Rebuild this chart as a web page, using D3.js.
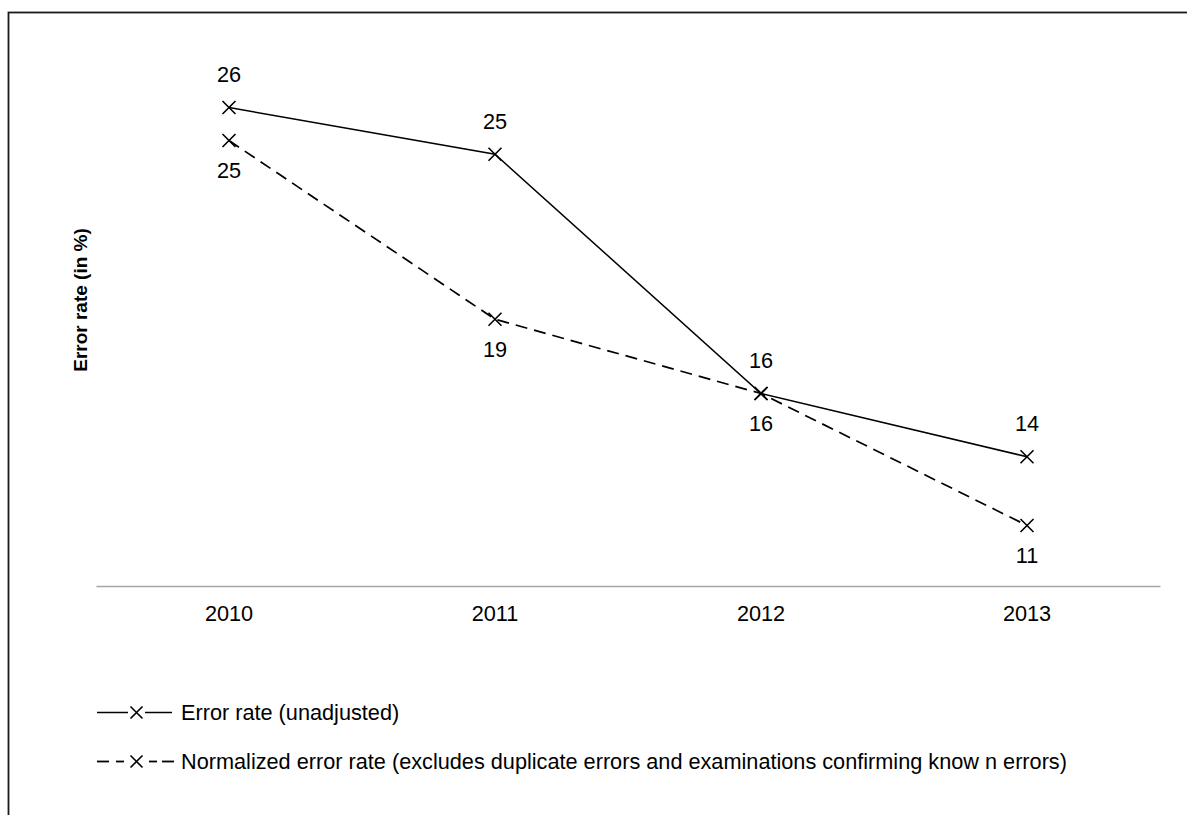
<!DOCTYPE html>
<html>
<head>
<meta charset="utf-8">
<script src="https://cdn.jsdelivr.net/npm/d3@7"></script>
<style>
  html, body { margin: 0; padding: 0; background: #fff; }
  svg { display: block; }
  text { font-family: "Liberation Sans", Arial, sans-serif; fill: #000; }
</style>
</head>
<body>
<svg id="chart" width="1187" height="815"></svg>
<script>
// ---- data ----
const years = ["2010", "2011", "2012", "2013"];
const unadjusted = [26.4, 24.7, 16.0, 13.7];
const normalized = [25.2, 18.7, 16.0, 11.2];
const unadjustedLabels = ["26", "25", "16", "14"];
const normalizedLabels = ["25", "19", "16", "11"];
const seriesNames = [
  "Error rate (unadjusted)",
  "Normalized error rate (excludes duplicate errors and examinations confirming know n errors)"
];
const yTitle = "Error rate (in %)";

// ---- layout ----
const svg = d3.select("#chart");
const plot = { left: 96, right: 1160, top: 63.5, bottom: 586 };
const FS = "21.7px";

const x = d3.scaleBand().domain(years).range([plot.left, plot.right]);
const y = d3.scaleLinear().domain([9, 28]).range([plot.bottom, plot.top]);
const cx = d => x(d) + x.bandwidth() / 2;

// outer frame (extends beyond the viewport on right and bottom)
svg.append("rect")
  .attr("x", 8.5).attr("y", 12.5).attr("width", 1300).attr("height", 1000)
  .attr("fill", "none").attr("stroke", "#1a1a1a").attr("stroke-width", 1.8);

// x axis
const xAxis = d3.axisBottom(x).tickSize(0).tickPadding(20);
const gx = svg.append("g").attr("transform", `translate(0,${plot.bottom})`).call(xAxis);
gx.select(".domain").attr("stroke", "#a6a6a6").attr("stroke-width", 1.5);
gx.selectAll("text").style("font-size", FS).style("font-family", "'Liberation Sans', Arial, sans-serif").attr("fill", "#000");

// y title
svg.append("text")
  .attr("transform", `translate(87,300) rotate(-90)`)
  .attr("text-anchor", "middle")
  .style("font-size", "19px").style("font-weight", "bold")
  .text(yTitle);

// lines
const line = d3.line().x((d, i) => cx(years[i])).y(d => y(d));
svg.append("path").datum(unadjusted).attr("d", line)
  .attr("fill", "none").attr("stroke", "#000").attr("stroke-width", 1.5);
svg.append("path").datum(normalized).attr("d", line)
  .attr("fill", "none").attr("stroke", "#000").attr("stroke-width", 1.7)
  .attr("stroke-dasharray", "12,7");

// markers
function xMarker(g, px, py, s) {
  g.append("path")
    .attr("d", `M${px - s},${py - s}L${px + s},${py + s}M${px - s},${py + s}L${px + s},${py - s}`)
    .attr("stroke", "#000").attr("stroke-width", 1.6).attr("fill", "none");
}
const mk = svg.append("g");
unadjusted.forEach((v, i) => xMarker(mk, cx(years[i]), y(v), 6.5));
normalized.forEach((v, i) => xMarker(mk, cx(years[i]), y(v), 6.5));

// data labels
svg.append("g").selectAll("text").data(unadjusted).join("text")
  .attr("x", (d, i) => cx(years[i]))
  .attr("y", d => y(d) - 33)
  .attr("text-anchor", "middle").attr("dominant-baseline", "central")
  .style("font-size", FS)
  .text((d, i) => unadjustedLabels[i]);
svg.append("g").selectAll("text").data(normalized).join("text")
  .attr("x", (d, i) => cx(years[i]))
  .attr("y", d => y(d) + 30)
  .attr("text-anchor", "middle").attr("dominant-baseline", "central")
  .style("font-size", FS)
  .text((d, i) => normalizedLabels[i]);

// legend
const legend = svg.append("g");
const legRows = [712.5, 761.5];
function seg(x1, x2, yy, w) {
  legend.append("line").attr("x1", x1).attr("x2", x2).attr("y1", yy).attr("y2", yy)
    .attr("stroke", "#000").attr("stroke-width", w);
}
// solid row
seg(97, 128, legRows[0], 1.5);
seg(145, 172, legRows[0], 1.5);
xMarker(legend, 136.5, legRows[0], 6);
// dashed row
seg(97, 109, legRows[1], 1.8);
seg(116, 124, legRows[1], 1.8);
seg(149, 157, legRows[1], 1.8);
seg(162, 174, legRows[1], 1.8);
xMarker(legend, 136.5, legRows[1], 6);

legend.selectAll("text.lbl").data(seriesNames).join("text")
  .attr("class", "lbl")
  .attr("x", 181)
  .attr("y", (d, i) => legRows[i])
  .attr("dominant-baseline", "central")
  .style("font-size", FS)
  .text(d => d);
</script>
</body>
</html>
